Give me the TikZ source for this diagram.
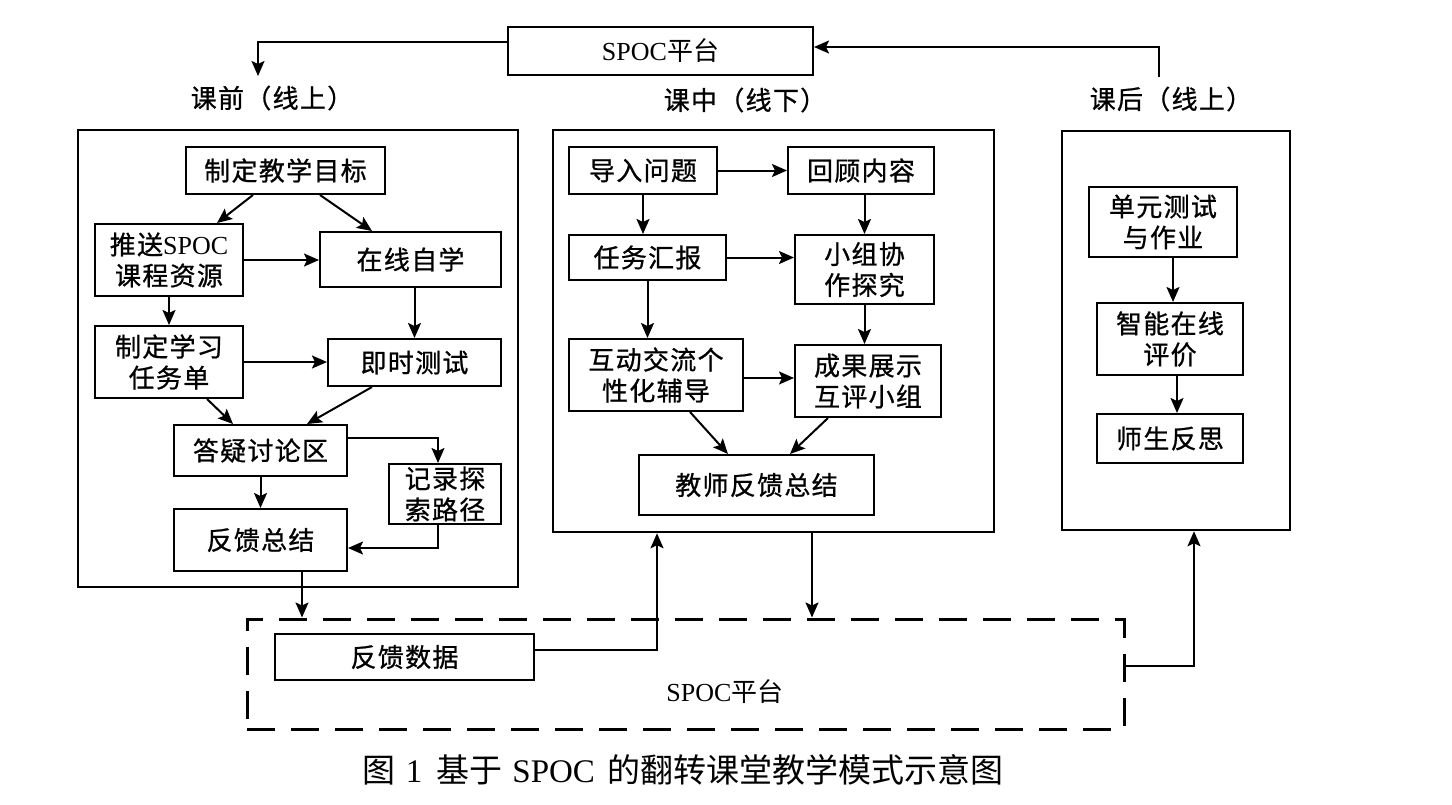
\documentclass[tikz,border=0pt]{standalone}
\usepackage{fontspec}
\setmainfont{Liberation Serif}
\newfontfamily\cjk[LetterSpace=5,FakeBold=0.8]{Noto Sans CJK SC}
\newfontfamily\cjkcap{Noto Sans CJK SC}
\usetikzlibrary{arrows.meta,calc}
\newcommand\spocx{{\rmfamily SPOC}}
\tikzset{
 box/.style={draw, line width=2pt, fill=white, inner sep=0pt, align=center, font=\cjk\fontsize{26}{31}\selectfont},
 panel/.style={draw, line width=2.5pt, inner sep=0pt},
 lab/.style={font=\cjk\fontsize{26}{31}\selectfont, inner sep=0pt},
 plab/.style={font=\cjkcap\fontsize{26}{31}\selectfont, inner sep=0pt},
 arr/.style={line width=2pt, -{Stealth[length=15pt,width=13pt,inset=3pt]}},
 dbox/.style={draw, line width=3pt, dash pattern=on 28pt off 16pt, inner sep=0pt},
}
\begin{document}
\begin{tikzpicture}[x=1pt,y=-1pt]
\useasboundingbox[fill=white] (0,0) rectangle (1452,804);

% top platform
\node[box, plab, minimum width=305pt, minimum height=48pt] (spoc) at (660.5,51) {\spocx 平台};
\coordinate (tl) at (258,76);
\coordinate (tr) at (1159,77);
\draw[arr] ([yshift=9pt]spoc.west) -| (tl);
\draw[arr] (tr) |- ([yshift=4pt]spoc.east);

% section labels
\node[lab] (lL) at (272,98) {课前（线上）};
\node[lab] (lM) at (745,100) {课中（线下）};
\node[lab] (lR) at (1171,99) {课后（线上）};

% panels
\node[panel, minimum width=440pt, minimum height=457pt] (PL) at (298,358.5) {};
\node[panel, minimum width=441pt, minimum height=402pt] (PM) at (773.5,331) {};
\node[panel, minimum width=228pt, minimum height=399pt] (PR) at (1176,330.5) {};

% left panel nodes
\node[box, minimum width=199pt, minimum height=47pt] (a1) at (285.5,170.5) {制定教学目标};
\node[box, minimum width=148pt, minimum height=72pt] (a2) at (169,260) {推送\spocx\\课程资源};
\node[box, minimum width=181pt, minimum height=55pt] (a3) at (410.5,259.5) {在线自学};
\node[box, minimum width=148pt, minimum height=72pt] (a4) at (169,362) {制定学习\\任务单};
\node[box, minimum width=173pt, minimum height=47pt] (a5) at (414.5,362.5) {即时测试};
\node[box, minimum width=173pt, minimum height=51pt] (a6) at (260.5,450.5) {答疑讨论区};
\node[box, minimum width=112pt, minimum height=60pt] (a7) at (445,494) {记录探\\索路径};
\node[box, minimum width=173pt, minimum height=62pt] (a8) at (260.5,540) {反馈总结};

% middle panel nodes
\node[box, minimum width=148pt, minimum height=47pt] (b1) at (643,170.5) {导入问题};
\node[box, minimum width=146pt, minimum height=47pt] (b2) at (861,170.5) {回顾内容};
\node[box, minimum width=157pt, minimum height=45pt] (b3) at (647.5,257.5) {任务汇报};
\node[box, minimum width=139pt, minimum height=69pt] (b4) at (864.5,269.5) {小组协\\作探究};
\node[box, minimum width=174pt, minimum height=72pt] (b5) at (656,375) {互动交流个\\性化辅导};
\node[box, minimum width=146pt, minimum height=72pt] (b6) at (868,381) {成果展示\\互评小组};
\node[box, minimum width=235pt, minimum height=60pt] (b7) at (756.5,485) {教师反馈总结};

% right panel nodes
\node[box, minimum width=148pt, minimum height=70pt] (c1) at (1163,222) {单元测试\\与作业};
\node[box, minimum width=146pt, minimum height=72pt] (c2) at (1170,339) {智能在线\\评价};
\node[box, minimum width=146pt, minimum height=49pt] (c3) at (1170,438.5) {师生反思};

% bottom platform
\node[dbox, minimum width=877pt, minimum height=110pt] (plat) at (685.5,674) {};
\node[box, minimum width=259pt, minimum height=46pt] (fd) at (404.5,657) {反馈数据};
\node[plab] (platlab) at (725,692) {\spocx 平台};

% caption
\node[inner sep=0pt, font=\cjkcap\fontsize{33}{37}\selectfont] (cap) at (683,770) {图\hspace{10pt}{\rmfamily 1}\hspace{14pt}基于\hspace{10pt}\spocx\hspace{12pt}的翻转课堂教学模式示意图};

% left arrows
\draw[arr] ([xshift=-32.5pt]a1.south) -- ([xshift=48pt]a2.north);
\draw[arr] ([xshift=34.5pt]a1.south) -- ([xshift=-38.5pt]a3.north);
\draw[arr] (a2.east) -- (a2.east -| a3.west);
\draw[arr] (a2.south) -- (a4.north);
\draw[arr] (a3.south -| a5.north) -- (a5.north);
\draw[arr] (a4.east) -- (a4.east -| a5.west);
\draw[arr] ([xshift=38pt]a4.south) -- ([xshift=-27.5pt]a6.north);
\draw[arr] ([xshift=-42.5pt]a5.south) -- ([xshift=46.5pt]a6.north);
\draw[arr] ([yshift=12.5pt]a6.east) -| ([xshift=-7pt]a7.north);
\draw[arr] (a6.south) -- (a8.north);
\draw[arr] ([xshift=-7pt]a7.south) |- ([yshift=-8pt]a8.east);
\draw[arr] ([xshift=41.5pt]a8.south) -- ([xshift=41.5pt]a8.south |- plat.north);

% middle arrows
\draw[arr] (b1.east) -- (b2.west);
\draw[arr] (b1.south) -- (b1.south |- b3.north);
\draw[arr] (b4.north |- b2.south) -- (b4.north);
\draw[arr] (b3.east) -- (b3.east -| b4.west);
\draw[arr] (b3.south) -- (b3.south |- b5.north);
\draw[arr] (b4.south) -- (b4.south |- b6.north);
\draw[arr] ([yshift=-3pt]b5.east) -- ([yshift=-3pt]b5.east -| b6.west);
\draw[arr] ([xshift=34pt]b5.south) -- ([xshift=-28.5pt]b7.north);
\draw[arr] ([xshift=-40pt]b6.south) -- ([xshift=33.5pt]b7.north);

% right arrows
\draw[arr] ([xshift=10pt]c1.south) -- ([xshift=3pt]c2.north);
\draw[arr] ([xshift=7pt]c2.south) -- ([xshift=7pt]c3.north);

% platform connectors
\draw[arr] ([yshift=7pt]fd.east) -| ([xshift=-116.5pt]PM.south);
\draw[arr] ([xshift=38.5pt]PM.south) -- ([xshift=38.5pt]PM.south |- plat.north);
\draw[arr] ([yshift=8pt]plat.east) -| ([xshift=18pt]PR.south);
\end{tikzpicture}
\end{document}
